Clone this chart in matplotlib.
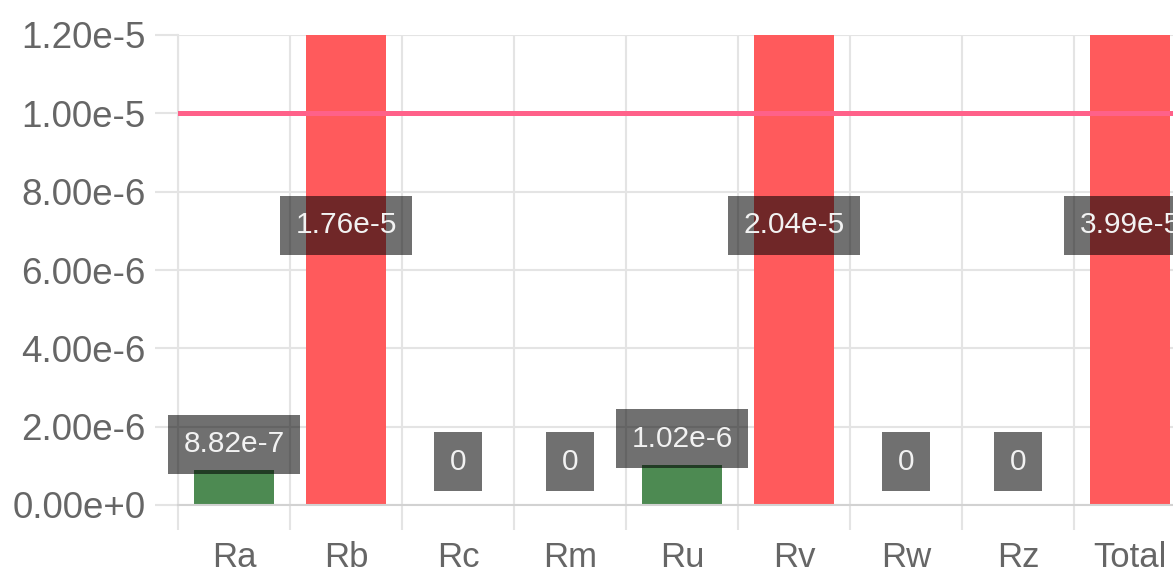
import matplotlib.pyplot as plt
from matplotlib.ticker import FixedLocator, FuncFormatter

plt.rcParams['font.family'] = ['Liberation Sans', 'DejaVu Sans']

categories = ['Ra', 'Rb', 'Rc', 'Rm', 'Ru', 'Rv', 'Rw', 'Rz', 'Total']
values = [8.82e-7, 1.76e-5, 0, 0, 1.02e-6, 2.04e-5, 0, 0, 3.99e-5]
value_labels = ['8.82e-7', '1.76e-5', '0', '0', '1.02e-6', '2.04e-5', '0', '0', '3.99e-5']
limit = 1.0e-5
y_max = 1.2e-5
y_ticks = [0, 2e-6, 4e-6, 6e-6, 8e-6, 1e-5, 1.2e-5]

W, H = 1173, 574
fig = plt.figure(figsize=(W / 100, H / 100), dpi=100)
# plot area runs a little past the right edge of the canvas
ax = fig.add_axes([178 / W, 69 / H, 1008 / W, 470 / H])

grid_c = '#e4e4e4'
colors = ['#4d8a52' if v <= limit else '#ff5a5c' for v in values]
x = range(len(categories))
ax.bar(x, values, width=0.72, color=colors, zorder=2)
ax.axhline(limit, color='#ff6189', lw=3.6, zorder=3)

ax.set_xlim(-0.5, len(categories) - 0.5)
ax.set_ylim(0, y_max)

def sci(v, pos):
    s = f'{v:.2e}'
    return s.replace('e-0', 'e-').replace('e+0', 'e+')

ax.yaxis.set_major_locator(FixedLocator(y_ticks))
ax.yaxis.set_major_formatter(FuncFormatter(sci))
ax.set_xticks(list(x))
ax.set_xticklabels(categories)
ax.xaxis.set_minor_locator(FixedLocator([i - 0.5 for i in range(len(categories) + 1)]))

ax.tick_params(axis='y', length=16.5, width=1.5, color=grid_c, pad=7,
               labelsize=26.5, labelcolor='#666666')
ax.tick_params(axis='x', which='major', length=0, pad=26,
               labelsize=25, labelcolor='#666666')
ax.tick_params(axis='x', which='minor', length=18, width=1.5, color=grid_c)

ax.grid(axis='y', color=grid_c, lw=1.5, zorder=0)
ax.grid(axis='x', which='minor', color=grid_c, lw=1.5, zorder=0)
for side in ['top', 'right']:
    ax.spines[side].set_visible(False)
ax.spines['left'].set_color(grid_c)
ax.spines['left'].set_linewidth(1.5)
ax.spines['bottom'].set_color('#d2d2d2')
ax.spines['bottom'].set_linewidth(1.5)

# value labels on dark translucent boxes
box = dict(boxstyle='square,pad=0.52', fc='black', ec='none', alpha=0.56)
for i, (v, txt) in enumerate(zip(values, value_labels)):
    if v > y_max:
        ax.annotate(txt, (i, 0.595), xycoords=('data', 'axes fraction'),
                    ha='center', va='center', fontsize=21.5, color='#f2f2f2',
                    bbox=box, zorder=4)
    else:
        off = 31 if v == 0 else 19
        ax.annotate(txt, (i, v), xytext=(0, off), textcoords='offset points',
                    ha='center', va='center', fontsize=21.5, color='#f2f2f2',
                    bbox=box, zorder=4)

fig.savefig('out.png', dpi=100)
